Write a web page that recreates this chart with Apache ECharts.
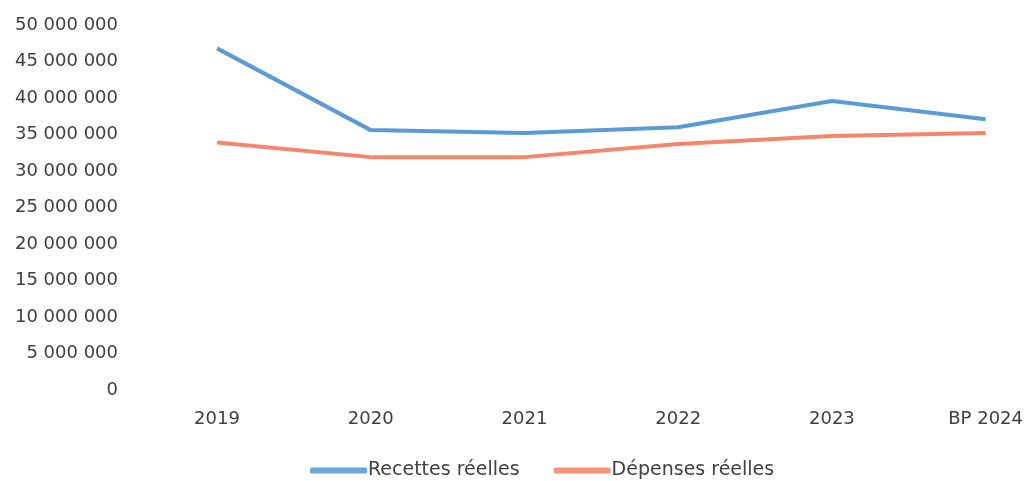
<!DOCTYPE html>
<html>
<head>
<meta charset="utf-8">
<script src="https://cdn.jsdelivr.net/npm/echarts@6/dist/echarts.min.js"></script>
<style>
  html, body { margin: 0; padding: 0; background: #fff; }
  #chart { width: 1026px; height: 481px; }
</style>
</head>
<body>
<div id="chart"></div>
<script>
// données
const categories = ['2019', '2020', '2021', '2022', '2023', 'BP 2024'];
const recettes = [46800000, 35600000, 35200000, 36000000, 39600000, 37100000];
const depenses = [33900000, 31900000, 31900000, 33700000, 34800000, 35200000];
const yTicks = { min: 0, max: 50000000, interval: 5000000 };

const fmt = v => String(v).replace(/\B(?=(\d{3})+(?!\d))/g, ' ');
const font = 'DejaVu Sans';

const myChart = echarts.init(document.getElementById('chart'));
myChart.setOption({
    animation: false,
    textStyle: { fontFamily: font },
    grid: { left: 217, right: 40, top: 25, bottom: 91 },
    legend: {
        top: 461,
        left: 310,
        padding: 0,
        itemWidth: 57,
        itemHeight: 6,
        itemGap: 34,
        icon: 'roundRect',
        textStyle: { color: '#404040', fontSize: 19, fontFamily: font, padding: [0, 0, 0, -4] },
        data: ['Recettes réelles', 'Dépenses réelles']
    },
    xAxis: {
        type: 'category',
        data: categories,
        boundaryGap: false,
        axisLine: { show: false },
        axisTick: { show: false },
        axisLabel: { color: '#404040', fontSize: 18, margin: 20, fontFamily: font }
    },
    yAxis: {
        type: 'value',
        min: yTicks.min,
        max: yTicks.max,
        interval: yTicks.interval,
        splitLine: { show: false },
        axisLine: { show: false },
        axisTick: { show: false },
        axisLabel: { color: '#404040', fontSize: 18, margin: 99, formatter: fmt, fontFamily: font }
    },
    series: [{
        name: 'Recettes réelles',
        type: 'line',
        data: recettes,
        symbol: 'none',
        lineStyle: { color: '#5b9bd5', width: 4 },
        itemStyle: { color: '#6aa7e0' }
    }, {
        name: 'Dépenses réelles',
        type: 'line',
        data: depenses,
        symbol: 'none',
        lineStyle: { color: '#f4866c', width: 4 },
        itemStyle: { color: '#f79579' }
    }]
});
</script>
</body>
</html>
